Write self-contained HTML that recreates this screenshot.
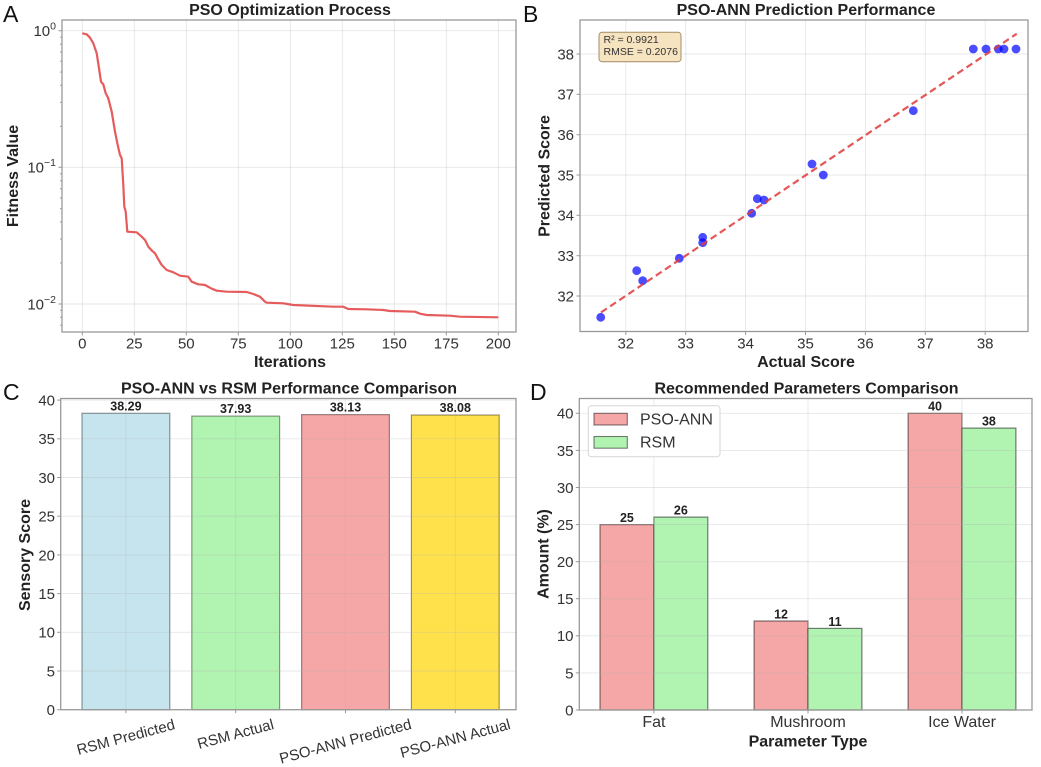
<!DOCTYPE html>
<html>
<head>
<meta charset="utf-8">
<style>
html,body{margin:0;padding:0;background:#fff;}
svg{display:block;}
.tk{font-size:15px;fill:#333;}
.ttl{font-size:16px;font-weight:bold;fill:#222;}
.val{font-size:12.5px;font-weight:bold;fill:#222;}
.let{font-size:23px;fill:#111;}
.grid{stroke:#b0b0b0;stroke-opacity:0.3;stroke-width:0.9;fill:none;}
.sp{stroke:#999;stroke-width:1.3;fill:none;}
.tm{stroke:#999;stroke-width:1;}
</style>
</head>
<body>
<svg width="1041" height="767" viewBox="0 0 1041 767" xmlns="http://www.w3.org/2000/svg" font-family="'Liberation Sans', Arial, sans-serif">
<rect width="1041" height="767" fill="#fff"/>

<!-- ================= PANEL A ================= -->
<text class="let" x="3" y="22">A</text>
<text class="ttl" x="290" y="15" text-anchor="middle">PSO Optimization Process</text>
<g class="grid">
  <line x1="82.3" y1="20" x2="82.3" y2="332"/>
  <line x1="134.3" y1="20" x2="134.3" y2="332"/>
  <line x1="186.3" y1="20" x2="186.3" y2="332"/>
  <line x1="238.3" y1="20" x2="238.3" y2="332"/>
  <line x1="290.3" y1="20" x2="290.3" y2="332"/>
  <line x1="342.3" y1="20" x2="342.3" y2="332"/>
  <line x1="394.3" y1="20" x2="394.3" y2="332"/>
  <line x1="446.3" y1="20" x2="446.3" y2="332"/>
  <line x1="498.3" y1="20" x2="498.3" y2="332"/>
  <line x1="62" y1="30.7" x2="516" y2="30.7"/>
  <line x1="62" y1="167.3" x2="516" y2="167.3"/>
  <line x1="62" y1="304" x2="516" y2="304"/>
</g>
<polyline fill="none" stroke="#e34646" stroke-opacity="0.88" stroke-width="2.2" stroke-linejoin="round"
 points="82.3,33.3 86.7,34.3 90,37.7 93.3,43.3 96.7,53.3 99,68.3 101,81.7 103.3,84.3 105.7,93.3 108.3,98.3 111.7,111.7 115,131.7 117.7,145 120,155 121.7,158.3 123.3,185 124.3,206.7 125.7,211.7 127.3,231.7 136.7,232.3 141.7,236.7 145,240 148.3,246.7 152.3,251 155,253.3 157.7,258.3 161.7,265 166.7,270 173.3,272.3 180,275.7 188.3,276.7 191.7,281.7 198.3,284.3 205,285 211.7,288.7 216.7,290.7 226.7,291.7 246.7,292 253.3,294 260,296.7 265,301.7 266.7,302.7 283.3,303.3 293.3,305 333.3,306.7 343.3,306.7 348.3,309 366.7,309.3 383.3,310 390,311 415,311.7 420,313.7 426.7,315 450,315.7 460,316.7 498.3,317.3"/>
<rect class="sp" x="62" y="20" width="454" height="312"/>
<g class="tm">
  <line x1="82.3" y1="332" x2="82.3" y2="335.5"/>
  <line x1="134.3" y1="332" x2="134.3" y2="335.5"/>
  <line x1="186.3" y1="332" x2="186.3" y2="335.5"/>
  <line x1="238.3" y1="332" x2="238.3" y2="335.5"/>
  <line x1="290.3" y1="332" x2="290.3" y2="335.5"/>
  <line x1="342.3" y1="332" x2="342.3" y2="335.5"/>
  <line x1="394.3" y1="332" x2="394.3" y2="335.5"/>
  <line x1="446.3" y1="332" x2="446.3" y2="335.5"/>
  <line x1="498.3" y1="332" x2="498.3" y2="335.5"/>
  <line x1="58.5" y1="30.7" x2="62" y2="30.7"/>
  <line x1="58.5" y1="167.3" x2="62" y2="167.3"/>
  <line x1="58.5" y1="304" x2="62" y2="304"/>
  <line x1="60" y1="37.2" x2="62" y2="37.2"/><line x1="60" y1="44.2" x2="62" y2="44.2"/>
  <line x1="60" y1="52.1" x2="62" y2="52.1"/><line x1="60" y1="61.2" x2="62" y2="61.2"/>
  <line x1="60" y1="72.1" x2="62" y2="72.1"/><line x1="60" y1="85.3" x2="62" y2="85.3"/>
  <line x1="60" y1="102.3" x2="62" y2="102.3"/><line x1="60" y1="126.3" x2="62" y2="126.3"/>
  <line x1="60" y1="173.8" x2="62" y2="173.8"/><line x1="60" y1="180.8" x2="62" y2="180.8"/>
  <line x1="60" y1="188.7" x2="62" y2="188.7"/><line x1="60" y1="197.9" x2="62" y2="197.9"/>
  <line x1="60" y1="208.7" x2="62" y2="208.7"/><line x1="60" y1="221.9" x2="62" y2="221.9"/>
  <line x1="60" y1="239" x2="62" y2="239"/><line x1="60" y1="262.9" x2="62" y2="262.9"/>
  <line x1="60" y1="310.3" x2="62" y2="310.3"/><line x1="60" y1="317.3" x2="62" y2="317.3"/>
  <line x1="60" y1="325.2" x2="62" y2="325.2"/>
</g>
<g class="tk" text-anchor="middle">
  <text x="82.3" y="348.3">0</text>
  <text x="134.3" y="348.3">25</text>
  <text x="186.3" y="348.3">50</text>
  <text x="238.3" y="348.3">75</text>
  <text x="290.3" y="348.3">100</text>
  <text x="342.3" y="348.3">125</text>
  <text x="394.3" y="348.3">150</text>
  <text x="446.3" y="348.3">175</text>
  <text x="498.3" y="348.3">200</text>
</g>
<g class="tk" text-anchor="end">
  <text x="56" y="36">10<tspan dy="-6.5" font-size="10.5">0</tspan></text>
  <text x="56" y="172.5">10<tspan dy="-6.5" font-size="10.5">−1</tspan></text>
  <text x="56" y="309.5">10<tspan dy="-6.5" font-size="10.5">−2</tspan></text>
</g>
<text class="ttl" x="290" y="367" text-anchor="middle">Iterations</text>
<text class="ttl" transform="translate(18,176) rotate(-90)" text-anchor="middle">Fitness Value</text>

<!-- ================= PANEL B ================= -->
<text class="let" x="523" y="22">B</text>
<text class="ttl" x="806" y="15" text-anchor="middle">PSO-ANN Prediction Performance</text>
<g class="grid">
  <line x1="625.8" y1="20" x2="625.8" y2="331.5"/>
  <line x1="685.7" y1="20" x2="685.7" y2="331.5"/>
  <line x1="745.6" y1="20" x2="745.6" y2="331.5"/>
  <line x1="805.5" y1="20" x2="805.5" y2="331.5"/>
  <line x1="865.4" y1="20" x2="865.4" y2="331.5"/>
  <line x1="925.3" y1="20" x2="925.3" y2="331.5"/>
  <line x1="985.2" y1="20" x2="985.2" y2="331.5"/>
  <line x1="580" y1="296" x2="1028" y2="296"/>
  <line x1="580" y1="255.7" x2="1028" y2="255.7"/>
  <line x1="580" y1="215.3" x2="1028" y2="215.3"/>
  <line x1="580" y1="175" x2="1028" y2="175"/>
  <line x1="580" y1="134.7" x2="1028" y2="134.7"/>
  <line x1="580" y1="94.3" x2="1028" y2="94.3"/>
  <line x1="580" y1="54" x2="1028" y2="54"/>
</g>
<g fill="#0000ff" fill-opacity="0.7">
  <circle cx="600.7" cy="317.3" r="4.4"/>
  <circle cx="636.7" cy="270.7" r="4.4"/>
  <circle cx="642.7" cy="280.7" r="4.4"/>
  <circle cx="679.3" cy="258.3" r="4.4"/>
  <circle cx="702.7" cy="237.3" r="4.4"/>
  <circle cx="702.7" cy="242.7" r="4.4"/>
  <circle cx="751.7" cy="213.3" r="4.4"/>
  <circle cx="757.3" cy="198.7" r="4.4"/>
  <circle cx="764" cy="200" r="4.4"/>
  <circle cx="812" cy="164" r="4.4"/>
  <circle cx="823.3" cy="175" r="4.4"/>
  <circle cx="913.3" cy="110.7" r="4.4"/>
  <circle cx="973.3" cy="49" r="4.4"/>
  <circle cx="986" cy="49" r="4.4"/>
  <circle cx="998.3" cy="49" r="4.4"/>
  <circle cx="1004" cy="49" r="4.4"/>
  <circle cx="1016" cy="49" r="4.4"/>
</g>
<line x1="601" y1="312.4" x2="1016.7" y2="33.8" stroke="#e03a3a" stroke-opacity="0.85" stroke-width="2.2" stroke-dasharray="7,4"/>
<rect x="599" y="32.3" width="82" height="29.4" rx="3" fill="#f6e3bf" stroke="#a48c68" stroke-width="1"/>
<text x="603.5" y="43" font-size="10.5" fill="#333">R² = 0.9921</text>
<text x="603.5" y="55" font-size="10.5" fill="#333">RMSE = 0.2076</text>
<rect class="sp" x="580" y="20" width="448" height="311.5"/>
<g class="tm">
  <line x1="625.8" y1="331.5" x2="625.8" y2="335"/>
  <line x1="685.7" y1="331.5" x2="685.7" y2="335"/>
  <line x1="745.6" y1="331.5" x2="745.6" y2="335"/>
  <line x1="805.5" y1="331.5" x2="805.5" y2="335"/>
  <line x1="865.4" y1="331.5" x2="865.4" y2="335"/>
  <line x1="925.3" y1="331.5" x2="925.3" y2="335"/>
  <line x1="985.2" y1="331.5" x2="985.2" y2="335"/>
  <line x1="576.5" y1="296" x2="580" y2="296"/>
  <line x1="576.5" y1="255.7" x2="580" y2="255.7"/>
  <line x1="576.5" y1="215.3" x2="580" y2="215.3"/>
  <line x1="576.5" y1="175" x2="580" y2="175"/>
  <line x1="576.5" y1="134.7" x2="580" y2="134.7"/>
  <line x1="576.5" y1="94.3" x2="580" y2="94.3"/>
  <line x1="576.5" y1="54" x2="580" y2="54"/>
</g>
<g class="tk" text-anchor="middle">
  <text x="625.8" y="348.3">32</text>
  <text x="685.7" y="348.3">33</text>
  <text x="745.6" y="348.3">34</text>
  <text x="805.5" y="348.3">35</text>
  <text x="865.4" y="348.3">36</text>
  <text x="925.3" y="348.3">37</text>
  <text x="985.2" y="348.3">38</text>
</g>
<g class="tk" text-anchor="end">
  <text x="574" y="301.4">32</text>
  <text x="574" y="261.1">33</text>
  <text x="574" y="220.7">34</text>
  <text x="574" y="180.4">35</text>
  <text x="574" y="140.1">36</text>
  <text x="574" y="99.7">37</text>
  <text x="574" y="59.4">38</text>
</g>
<text class="ttl" x="806" y="367" text-anchor="middle">Actual Score</text>
<text class="ttl" transform="translate(549.5,176) rotate(-90)" text-anchor="middle">Predicted Score</text>

<!-- ================= PANEL C ================= -->
<text class="let" x="3" y="400">C</text>
<text class="ttl" x="289" y="393.3" text-anchor="middle">PSO-ANN vs RSM Performance Comparison</text>
<g>
  <rect x="82" y="413.3" width="87.8" height="296.4" fill="#c6e4ee" stroke="#000" stroke-opacity="0.4" stroke-width="1.2"/>
  <rect x="191.8" y="416.1" width="87.8" height="293.6" fill="#b1f3b1" stroke="#000" stroke-opacity="0.4" stroke-width="1.2"/>
  <rect x="301.6" y="414.6" width="87.8" height="295.1" fill="#f5a6a6" stroke="#000" stroke-opacity="0.4" stroke-width="1.2"/>
  <rect x="411.4" y="415" width="87.8" height="294.7" fill="#ffe14c" stroke="#000" stroke-opacity="0.4" stroke-width="1.2"/>
</g>
<g class="grid">
  <line x1="125.9" y1="398.5" x2="125.9" y2="709.7"/>
  <line x1="235.7" y1="398.5" x2="235.7" y2="709.7"/>
  <line x1="345.5" y1="398.5" x2="345.5" y2="709.7"/>
  <line x1="455.3" y1="398.5" x2="455.3" y2="709.7"/>
  <line x1="60.7" y1="671" x2="516" y2="671"/>
  <line x1="60.7" y1="632.3" x2="516" y2="632.3"/>
  <line x1="60.7" y1="593.6" x2="516" y2="593.6"/>
  <line x1="60.7" y1="554.9" x2="516" y2="554.9"/>
  <line x1="60.7" y1="516.2" x2="516" y2="516.2"/>
  <line x1="60.7" y1="477.5" x2="516" y2="477.5"/>
  <line x1="60.7" y1="438.8" x2="516" y2="438.8"/>
  <line x1="60.7" y1="400.1" x2="516" y2="400.1"/>
</g>
<g class="val" text-anchor="middle">
  <text x="125.9" y="410.3">38.29</text>
  <text x="235.7" y="413.1">37.93</text>
  <text x="345.5" y="411.6">38.13</text>
  <text x="455.3" y="412">38.08</text>
</g>
<rect class="sp" x="60.7" y="398.5" width="455.3" height="311.2"/>
<g class="tm">
  <line x1="125.9" y1="709.7" x2="125.9" y2="713.2"/>
  <line x1="235.7" y1="709.7" x2="235.7" y2="713.2"/>
  <line x1="345.5" y1="709.7" x2="345.5" y2="713.2"/>
  <line x1="455.3" y1="709.7" x2="455.3" y2="713.2"/>
  <line x1="57.2" y1="709.7" x2="60.7" y2="709.7"/>
  <line x1="57.2" y1="671" x2="60.7" y2="671"/>
  <line x1="57.2" y1="632.3" x2="60.7" y2="632.3"/>
  <line x1="57.2" y1="593.6" x2="60.7" y2="593.6"/>
  <line x1="57.2" y1="554.9" x2="60.7" y2="554.9"/>
  <line x1="57.2" y1="516.2" x2="60.7" y2="516.2"/>
  <line x1="57.2" y1="477.5" x2="60.7" y2="477.5"/>
  <line x1="57.2" y1="438.8" x2="60.7" y2="438.8"/>
  <line x1="57.2" y1="400.1" x2="60.7" y2="400.1"/>
</g>
<g class="tk" text-anchor="end">
  <text x="55" y="715.1">0</text>
  <text x="55" y="676.4">5</text>
  <text x="55" y="637.7">10</text>
  <text x="55" y="599">15</text>
  <text x="55" y="560.3">20</text>
  <text x="55" y="521.6">25</text>
  <text x="55" y="482.9">30</text>
  <text x="55" y="444.2">35</text>
  <text x="55" y="405.5">40</text>
</g>
<g class="tk" text-anchor="middle" dominant-baseline="central">
  <text transform="translate(125.9,737.6) rotate(-15)">RSM Predicted</text>
  <text transform="translate(235.7,734.5) rotate(-15)">RSM Actual</text>
  <text transform="translate(345.5,741.8) rotate(-15)">PSO-ANN Predicted</text>
  <text transform="translate(455.3,739) rotate(-15)">PSO-ANN Actual</text>
</g>
<text class="ttl" transform="translate(30,555) rotate(-90)" text-anchor="middle">Sensory Score</text>

<!-- ================= PANEL D ================= -->
<text class="let" x="530" y="400">D</text>
<text class="ttl" x="806.5" y="393.3" text-anchor="middle">Recommended Parameters Comparison</text>
<g stroke="#000" stroke-opacity="0.5" stroke-width="1.2">
  <rect x="600" y="524.6" width="53.9" height="185.4" fill="#f5a6a6"/>
  <rect x="653.9" y="517.1" width="53.9" height="192.9" fill="#b1f3b1"/>
  <rect x="754.1" y="621" width="53.9" height="89" fill="#f5a6a6"/>
  <rect x="808" y="628.4" width="53.9" height="81.6" fill="#b1f3b1"/>
  <rect x="908.1" y="413.3" width="53.9" height="296.7" fill="#f5a6a6"/>
  <rect x="962" y="428.1" width="53.9" height="281.9" fill="#b1f3b1"/>
</g>
<g class="grid">
  <line x1="653.9" y1="398.5" x2="653.9" y2="710"/>
  <line x1="808" y1="398.5" x2="808" y2="710"/>
  <line x1="962" y1="398.5" x2="962" y2="710"/>
  <line x1="579.3" y1="672.9" x2="1032" y2="672.9"/>
  <line x1="579.3" y1="635.8" x2="1032" y2="635.8"/>
  <line x1="579.3" y1="598.7" x2="1032" y2="598.7"/>
  <line x1="579.3" y1="561.7" x2="1032" y2="561.7"/>
  <line x1="579.3" y1="524.6" x2="1032" y2="524.6"/>
  <line x1="579.3" y1="487.5" x2="1032" y2="487.5"/>
  <line x1="579.3" y1="450.4" x2="1032" y2="450.4"/>
  <line x1="579.3" y1="413.3" x2="1032" y2="413.3"/>
</g>
<g class="val" text-anchor="middle">
  <text x="626.95" y="522">25</text>
  <text x="680.85" y="514.5">26</text>
  <text x="781.05" y="618.4">12</text>
  <text x="834.95" y="625.8">11</text>
  <text x="935.05" y="410.7">40</text>
  <text x="988.95" y="425.5">38</text>
</g>
<rect class="sp" x="579.3" y="398.5" width="452.7" height="311.5"/>
<g class="tm">
  <line x1="653.9" y1="710" x2="653.9" y2="713.5"/>
  <line x1="808" y1="710" x2="808" y2="713.5"/>
  <line x1="962" y1="710" x2="962" y2="713.5"/>
  <line x1="575.8" y1="710" x2="579.3" y2="710"/>
  <line x1="575.8" y1="672.9" x2="579.3" y2="672.9"/>
  <line x1="575.8" y1="635.8" x2="579.3" y2="635.8"/>
  <line x1="575.8" y1="598.7" x2="579.3" y2="598.7"/>
  <line x1="575.8" y1="561.7" x2="579.3" y2="561.7"/>
  <line x1="575.8" y1="524.6" x2="579.3" y2="524.6"/>
  <line x1="575.8" y1="487.5" x2="579.3" y2="487.5"/>
  <line x1="575.8" y1="450.4" x2="579.3" y2="450.4"/>
  <line x1="575.8" y1="413.3" x2="579.3" y2="413.3"/>
</g>
<g class="tk" text-anchor="end">
  <text x="573.5" y="715.4">0</text>
  <text x="573.5" y="678.3">5</text>
  <text x="573.5" y="641.2">10</text>
  <text x="573.5" y="604.1">15</text>
  <text x="573.5" y="567.1">20</text>
  <text x="573.5" y="530">25</text>
  <text x="573.5" y="492.9">30</text>
  <text x="573.5" y="455.8">35</text>
  <text x="573.5" y="418.7">40</text>
</g>
<g class="tk" text-anchor="middle" style="font-size:16px">
  <text x="653.9" y="727">Fat</text>
  <text x="808" y="727">Mushroom</text>
  <text x="962" y="727">Ice Water</text>
</g>
<text class="ttl" x="808" y="746.5" text-anchor="middle">Parameter Type</text>
<text class="ttl" transform="translate(548.5,554) rotate(-90)" text-anchor="middle">Amount (%)</text>
<!-- legend -->
<rect x="588.3" y="405.7" width="131.7" height="51" rx="3" fill="#fff" fill-opacity="0.85" stroke="#d5d5d5" stroke-width="1"/>
<rect x="594" y="413.3" width="33.3" height="11.7" fill="#f5a6a6" stroke="#000" stroke-opacity="0.5" stroke-width="1.1"/>
<rect x="594" y="436.5" width="33.3" height="11.7" fill="#b1f3b1" stroke="#000" stroke-opacity="0.5" stroke-width="1.1"/>
<text x="640" y="424.3" font-size="16" fill="#333">PSO-ANN</text>
<text x="640" y="447.7" font-size="16" fill="#333">RSM</text>
</svg>
</body>
</html>
